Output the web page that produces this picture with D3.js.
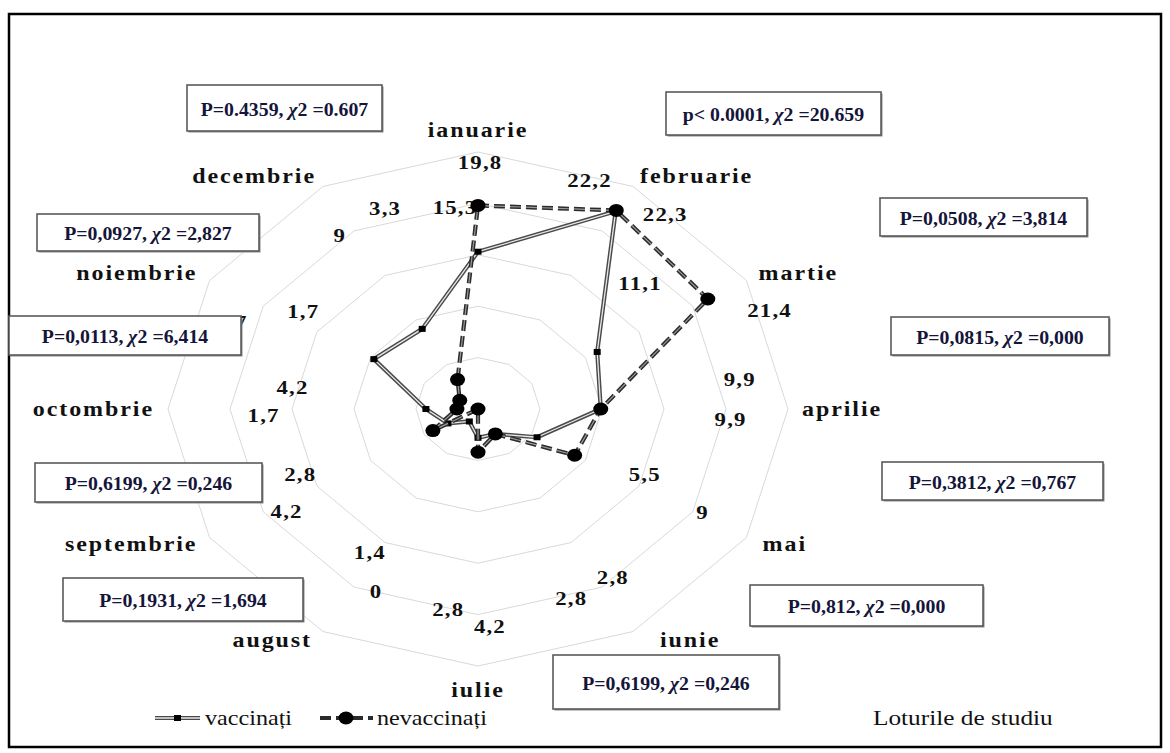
<!DOCTYPE html>
<html>
<head>
<meta charset="utf-8">
<script src="https://cdn.jsdelivr.net/npm/d3@7"></script>
<style>
  body { margin: 0; background: #fff; }
</style>
</head>
<body>
<svg id="chart" width="1170" height="753" font-family="'Liberation Serif', 'Times New Roman', Times, serif"></svg>
<script>
// ---- data ----
const months = ["ianuarie", "februarie", "martie", "aprilie", "mai", "iunie",
                "iulie", "august", "septembrie", "octombrie", "noiembrie", "decembrie"];
const vaccinati   = [15.3, 22.2, 11.1, 9.9, 5.5, 2.8, 2.8, 1.4, 2.8, 4.2, 9.7, 9];
const nevaccinati = [19.8, 22.3, 21.4, 9.9, 9, 2.8, 4.2, 0, 4.2, 1.7, 1.7, 3.3];
const gridLevels  = [5, 10, 15, 20, 25];
const seriesNames = ["vaccinați", "nevaccinați"];
const legendTitle = "Loturile de studiu";
// statistical test results: [p part, chi-square value]
const testP   = ["P=0.4359", "p< 0.0001", "P=0,0927", "P=0,0508", "P=0,0113", "P=0,0815",
                 "P=0,6199", "P=0,3812", "P=0,1931", "P=0,812", "P=0,6199"];
const testChi = ["0.607", "20.659", "2,827", "3,814", "6,414", "0,000",
                 "0,246", "0,767", "1,694", "0,000", "0,246"];

// ---- layout ----
const cx = 478, cy = 409, RX = 310, RY = 257;
// result boxes [x, y, w, h]
const boxLayout = [[187, 85, 195, 46], [666, 92, 215, 43], [37, 214, 222, 37], [880, 198, 207, 38],
                   [9, 316, 232, 39], [891, 317, 218, 38], [35, 463, 227, 39], [882, 462, 221, 38],
                   [63, 578, 240, 43], [750, 585, 233, 41], [553, 655, 226, 54]];
// value label placement in polar form: [radius on value scale, angle in degrees]
const vaccLabelPolar = [[19.7, -5.4], [24.0, 22], [17.9, 46.9], [21.3, 82.4], [14.9, 115.5], [19.7, 146.5],
                        [19.7, 187], [16.5, 211.9], [15.7, 245.9], [15.1, 277.8], [21.6, 293], [20.2, 326.5]];
const nevacLabelPolar = [[24.0, 0.4], [24.2, 38.6], [25.4, 67.8], [20.4, 93], [20.7, 119], [19.9, 157.8],
                         [21.2, 177.4], [19.6, 204.8], [18.4, 237], [17.3, 268], [17.0, 304], [20.9, 339]];
// extra pixel nudge for individual month labels
const monthNudge = [[0, 0], [0, 2], [0, 0], [0, 0], [4, 0], [20, -3], [0, 0], [-4, -3], [0, 0], [0, 0], [0, 0], [0, 2]];
const STRETCH = 1.2;
const SERIF = "'Liberation Serif', 'Times New Roman', Times, serif";

const svg = d3.select("#chart");

const r = d3.scaleLinear().domain([0, d3.max(gridLevels)]).range([0, 1]);
const angle = d3.scaleLinear().domain([0, months.length]).range([0, 2 * Math.PI]);
const px = (v, a) => cx + RX * r(v) * Math.sin(a);
const py = (v, a) => cy - RY * r(v) * Math.cos(a);
const fmt = v => String(v).replace(".", ",");
const stretchText = (sel, s) => sel.attr("transform", d => `translate(${d.x},${d.y}) scale(${s},1)`)
  .attr("font-family", SERIF);

// frame
svg.append("rect").attr("x", 9).attr("y", 14).attr("width", 1152).attr("height", 733)
  .attr("fill", "#fff").attr("stroke", "#000").attr("stroke-width", 2.5);

// grid rings
const ringLine = d3.line().curve(d3.curveLinearClosed);
svg.append("g").selectAll("path").data(gridLevels).join("path")
  .attr("d", lv => ringLine(months.map((m, i) => [px(lv, angle(i)), py(lv, angle(i))])))
  .attr("fill", "none").attr("stroke", "#d9d9d9").attr("stroke-width", 1);

// month labels
const monthPos = months.map((m, i) => {
  const a = angle(i), s = Math.sin(a), c = Math.cos(a);
  let x = cx + (RX + 14) * s + monthNudge[i][0], y = cy - (RY + 14) * c + monthNudge[i][1];
  let anchor = s > 0.1 ? "start" : (s < -0.1 ? "end" : "middle");
  if (anchor === "middle") y += c > 0 ? -8 : 10;
  return { m, x, y, anchor };
});
svg.append("g").selectAll("text").data(monthPos).join("text")
  .call(stretchText, STRETCH)
  .attr("text-anchor", d => d.anchor)
  .attr("dominant-baseline", "central")
  .attr("font-size", 20).attr("font-weight", "bold").attr("letter-spacing", 1.6)
  .attr("fill", "#111").text(d => d.m);

// value labels
const labelData = [];
vaccinati.forEach((v, i) => {
  const [rv, deg] = vaccLabelPolar[i], a = deg * Math.PI / 180;
  labelData.push({ t: fmt(v), x: px(rv, a), y: py(rv, a) });
});
nevaccinati.forEach((v, i) => {
  const [rv, deg] = nevacLabelPolar[i], a = deg * Math.PI / 180;
  labelData.push({ t: fmt(v), x: px(rv, a), y: py(rv, a) });
});
svg.append("g").selectAll("text").data(labelData).join("text")
  .call(stretchText, STRETCH)
  .attr("text-anchor", "middle").attr("dominant-baseline", "central")
  .attr("font-size", 19).attr("font-weight", "bold").attr("letter-spacing", 1)
  .attr("fill", "#111").text(d => d.t);

// series
const seriesLine = d3.line().curve(d3.curveLinearClosed);
const pts = vals => vals.map((v, i) => [px(v, angle(i)), py(v, angle(i))]);

// vaccinați: double line with square markers
svg.append("path").attr("d", seriesLine(pts(vaccinati)))
  .attr("fill", "none").attr("stroke", "#4a4a4a").attr("stroke-width", 4.2).attr("stroke-linejoin", "round");
svg.append("path").attr("d", seriesLine(pts(vaccinati)))
  .attr("fill", "none").attr("stroke", "#e8e8e8").attr("stroke-width", 1.3).attr("stroke-linejoin", "round");
svg.append("g").selectAll("rect").data(pts(vaccinati)).join("rect")
  .attr("x", d => d[0] - 3.5).attr("y", d => d[1] - 3).attr("width", 7).attr("height", 6)
  .attr("fill", "#000");

// nevaccinați: dashed line with round markers
svg.append("path").attr("d", seriesLine(pts(nevaccinati)))
  .attr("fill", "none").attr("stroke", "#2b2b2b").attr("stroke-width", 4.2)
  .attr("stroke-dasharray", "11,5");
svg.append("path").attr("d", seriesLine(pts(nevaccinati)))
  .attr("fill", "none").attr("stroke", "#9a9a9a").attr("stroke-width", 1.2)
  .attr("stroke-dasharray", "11,5");
svg.append("g").selectAll("ellipse").data(pts(nevaccinati)).join("ellipse")
  .attr("cx", d => d[0]).attr("cy", d => d[1]).attr("rx", 7.5).attr("ry", 6.5)
  .attr("fill", "#000");

// result boxes
const boxG = svg.append("g").selectAll("g").data(boxLayout).join("g");
boxG.append("rect")
  .attr("x", d => d[0] + 1.5).attr("y", d => d[1] + 1.5).attr("width", d => d[2]).attr("height", d => d[3])
  .attr("fill", "#8a8a8a");
boxG.append("rect")
  .attr("x", d => d[0]).attr("y", d => d[1]).attr("width", d => d[2]).attr("height", d => d[3])
  .attr("fill", "#fff").attr("stroke", "#5a5a5a").attr("stroke-width", 1.6);
const boxText = boxG.append("text")
  .datum((d, i) => ({ x: d[0] + d[2] / 2, y: d[1] + d[3] / 2 + 1, i }))
  .call(stretchText, 1.1)
  .attr("text-anchor", "middle").attr("dominant-baseline", "central")
  .attr("font-size", 18).attr("font-weight", "bold").attr("fill", "#15153a");
boxText.append("tspan").text(d => testP[d.i] + ", ");
boxText.append("tspan").attr("font-style", "italic").text("χ");
boxText.append("tspan").text(d => "2 =" + testChi[d.i]);

// legend
const legendY = 718;
const leg = svg.append("g");
leg.append("line").attr("x1", 155).attr("x2", 200).attr("y1", legendY).attr("y2", legendY)
  .attr("stroke", "#4a4a4a").attr("stroke-width", 4.2);
leg.append("line").attr("x1", 155).attr("x2", 200).attr("y1", legendY).attr("y2", legendY)
  .attr("stroke", "#e8e8e8").attr("stroke-width", 1.3);
leg.append("rect").attr("x", 174).attr("y", legendY - 3).attr("width", 7).attr("height", 6).attr("fill", "#000");
leg.append("line").attr("x1", 320).attr("x2", 373).attr("y1", legendY).attr("y2", legendY)
  .attr("stroke", "#2b2b2b").attr("stroke-width", 4.2).attr("stroke-dasharray", "11,5");
leg.append("ellipse").attr("cx", 346).attr("cy", legendY).attr("rx", 7.5).attr("ry", 6.5).attr("fill", "#000");
leg.selectAll("text.s").data([{ t: seriesNames[0], x: 205, y: legendY }, { t: seriesNames[1], x: 377, y: legendY }])
  .join("text").attr("class", "s")
  .call(stretchText, 1.15)
  .attr("dominant-baseline", "central").attr("font-size", 21).attr("fill", "#111").text(d => d.t);
leg.selectAll("text.t").data([{ t: legendTitle, x: 873, y: legendY }]).join("text").attr("class", "t")
  .call(stretchText, 1.15)
  .attr("dominant-baseline", "central").attr("font-size", 22).attr("fill", "#111").text(d => d.t);
</script>
</body>
</html>
